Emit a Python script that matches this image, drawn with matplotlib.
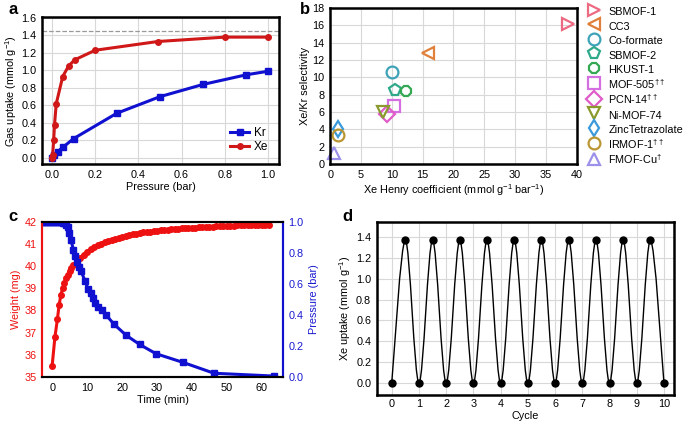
import numpy as np
import matplotlib
matplotlib.use("Agg")
import matplotlib.pyplot as plt
from matplotlib.path import Path
from matplotlib.patches import PathPatch

plt.rcParams['font.family'] = ['Liberation Sans', 'DejaVu Sans']
plt.rcParams['font.size'] = 7.8
plt.rcParams['mathtext.fontset'] = 'custom'
plt.rcParams['mathtext.rm'] = 'Liberation Sans'
plt.rcParams['mathtext.it'] = 'Liberation Sans'

# panel a: isotherms
kr_p = [0.0, 0.008, 0.026, 0.05, 0.1, 0.3, 0.5, 0.7, 0.9, 1.0]
kr_q = [0.0, 0.03, 0.07, 0.12, 0.22, 0.51, 0.70, 0.84, 0.95, 0.99]
xe_p = [0.0, 0.003, 0.008, 0.012, 0.02, 0.05, 0.077, 0.105, 0.2, 0.49, 0.80, 1.0]
xe_q = [0.0, 0.03, 0.2, 0.38, 0.62, 0.93, 1.05, 1.12, 1.23, 1.33, 1.38, 1.38]
sat_line = 1.45

# panel b: selectivity vs Henry coefficient
mofs = ['SBMOF-1', 'CC3', 'Co-formate', 'SBMOF-2', 'HKUST-1',
        r'MOF-505$^{\dagger\dagger}$', r'PCN-14$^{\dagger\dagger}$', 'Ni-MOF-74',
        'ZincTetrazolate', r'IRMOF-1$^{\dagger\dagger}$', r'FMOF-Cu$^{\dagger}$']
henry = [38.5, 15.8, 10.0, 10.5, 12.3, 10.4, 9.2, 8.5, 1.2, 1.3, 0.6]
selectivity = [16.2, 12.85, 10.65, 8.6, 8.45, 6.75, 5.8, 5.95, 4.1, 3.35, 1.3]
mof_markers = ['>', '<', 'o', 'p', '8', 's', 'D', 'v', 'd', 'o', '^']
mof_colors = ['#ec6a82', '#e0803a', '#3fa3b8', '#2fa98a', '#34a853', '#d36fe0',
              '#e05cc8', '#8a9a2c', '#3a9ad9', '#b99632', '#9b90ea']

# panel c: breakthrough
w_t = [0, 0.8, 1.5, 2, 2.5, 3, 3.5, 4, 4.5, 5, 5.5, 6, 7, 8, 9, 10, 11, 12, 13, 14,
       15, 16, 17, 18, 19, 20, 21, 22, 23, 24, 25, 26, 27, 28, 29, 30, 31, 32, 33,
       34, 35, 36, 37, 38, 39, 40, 41, 42, 43, 44, 45, 46, 47, 48, 49, 50, 51, 52,
       53, 54, 55, 56, 57, 58, 59, 60, 61, 62]
weight = [35.5, 36.8, 37.6, 38.25, 38.7, 39.0, 39.25, 39.45, 39.62, 39.78, 39.92,
          40.05, 40.22, 40.38, 40.52, 40.65, 40.76, 40.86, 40.94, 41.01, 41.07,
          41.13, 41.18, 41.23, 41.28, 41.32, 41.36, 41.40, 41.43, 41.46, 41.49,
          41.52, 41.54, 41.56, 41.58, 41.60, 41.62, 41.63, 41.65, 41.66, 41.68,
          41.69, 41.70, 41.71, 41.72, 41.73, 41.74, 41.75, 41.76, 41.77, 41.78,
          41.79, 41.80, 41.80, 41.81, 41.82, 41.82, 41.83, 41.84, 41.84, 41.85,
          41.85, 41.86, 41.86, 41.86, 41.87, 41.87, 41.87]
p_t = [-3, -2.5, -2, -1.5, -1, -0.5, 0, 0.5, 1, 1.5, 2, 2.5, 3, 3.5, 4, 4.6, 4.9,
       5.4, 6.1, 6.6, 7.1, 7.7, 8.3, 9.4, 10.2, 11.0, 11.6, 12.4, 13.2, 14.3, 15.4,
       17.7, 21.1, 25, 29.7, 37.3, 46.3, 63.4]
pressure = [1, 1, 1, 1, 1, 1, 1, 1, 1, 1, 1, 0.998, 0.995, 0.99, 0.98, 0.97, 0.93,
            0.88, 0.82, 0.78, 0.74, 0.71, 0.68, 0.62, 0.57, 0.54, 0.51, 0.48, 0.45,
            0.43, 0.40, 0.34, 0.27, 0.21, 0.15, 0.095, 0.024, 0.006]

# panel d: cycling
cycle = [0, 0.5, 1, 1.5, 2, 2.5, 3, 3.5, 4, 4.5, 5, 5.5, 6, 6.5, 7, 7.5, 8, 8.5,
         9, 9.5, 10]
xe_uptake = [0, 1.37, 0, 1.37, 0, 1.37, 0, 1.37, 0, 1.37, 0, 1.37, 0, 1.37, 0,
             1.37, 0, 1.37, 0, 1.37, 0]

GRID = '#d8d8d8'


def smooth_path(x, y):
    pts = np.column_stack([x, y]).astype(float)
    verts = [pts[0]]
    codes = [Path.MOVETO]
    n = len(pts)
    for i in range(n - 1):
        p0 = pts[i - 1] if i > 0 else pts[i]
        p1, p2 = pts[i], pts[i + 1]
        p3 = pts[i + 2] if i + 2 < n else pts[i + 1]
        verts += [p1 + (p2 - p0) / 6, p2 - (p3 - p1) / 6, p2]
        codes += [Path.CURVE4] * 3
    return Path(verts, codes)


def frame(ax, lw=1.8):
    for s in ax.spines.values():
        s.set_linewidth(lw)
    ax.tick_params(length=0, pad=4)


fig = plt.figure(figsize=(6.85, 4.25), dpi=100)

# ---- a ----
ax = fig.add_axes([0.0613, 0.614, 0.3457, 0.346])
ax.grid(True, color=GRID, lw=0.8)
ax.set_axisbelow(True)
ax.axhline(sat_line, color='#999999', ls='--', lw=0.9)
ax.plot(kr_p, kr_q, '-s', color='#1010d0', lw=2.2, ms=4, label='Kr')
ax.plot(xe_p, xe_q, '-o', color='#d01818', lw=2.2, ms=4, label='Xe')
ax.set_xlim(-0.046, 1.05)
ax.set_ylim(-0.07, 1.61)
ax.set_xticks(np.arange(0, 1.01, 0.2))
ax.set_yticks(np.arange(0, 1.61, 0.2))
ax.xaxis.set_major_formatter(matplotlib.ticker.FormatStrFormatter('%.1f'))
ax.yaxis.set_major_formatter(matplotlib.ticker.FormatStrFormatter('%.1f'))
ax.set_xlabel('Pressure (bar)', labelpad=2)
ax.set_ylabel('Gas uptake (mmol g$^{-1}$)', labelpad=2)
ax.legend(loc='lower right', frameon=False, handlelength=1.6, handletextpad=0.4,
          labelspacing=0.2, fontsize=8.5)
frame(ax)

# ---- b ----
ax = fig.add_axes([0.482, 0.614, 0.360, 0.367])
ax.grid(True, color=GRID, lw=0.8)
ax.set_axisbelow(True)
for i in range(len(mofs)):
    ax.plot(henry[i], selectivity[i], ls='none', marker=mof_markers[i], ms=8.5,
            mfc='none', mec=mof_colors[i], mew=1.6, label=mofs[i], clip_on=False)
ax.set_xlim(0, 40)
ax.set_ylim(0, 18)
ax.set_xticks(np.arange(0, 41, 5))
ax.set_yticks(np.arange(0, 19, 2))
ax.set_xlabel('Xe Henry coefficient (mmol g$^{-1}$ bar$^{-1}$)', labelpad=2)
ax.set_ylabel('Xe/Kr selectivity', labelpad=2)
ax.legend(loc='upper left', bbox_to_anchor=(1.01, 1.05), frameon=False,
          handletextpad=0.3, labelspacing=0.0, handleheight=1.68,
          borderaxespad=0.0, fontsize=7.8)
frame(ax)

# ---- c ----
ax = fig.add_axes([0.0613, 0.113, 0.3517, 0.365])
ax.plot(w_t, weight, '-o', color='#ee1111', lw=2.2, ms=4)
ax.set_xlim(-2.9, 66)
ax.set_ylim(35, 42)
ax.set_xticks(np.arange(0, 61, 10))
ax.set_yticks(np.arange(35, 43, 1))
ax.set_xlabel('Time (min)', labelpad=2)
ax.set_ylabel('Weight (mg)', color='#ee1111', labelpad=2)
ax.tick_params(axis='y', colors='#ee1111')
ax2 = ax.twinx()
ax2.plot(p_t, pressure, '-s', color='#1010d0', lw=2.2, ms=4)
ax2.set_ylim(0, 1)
ax2.set_yticks(np.arange(0, 1.01, 0.2))
ax2.yaxis.set_major_formatter(matplotlib.ticker.FormatStrFormatter('%.1f'))
ax2.set_ylabel('Pressure (bar)', color='#1a1ad0', labelpad=4)
ax2.tick_params(axis='y', colors='#1a1ad0')
for a_ in (ax, ax2):
    a_.tick_params(length=0, pad=4)
    for s in a_.spines.values():
        s.set_linewidth(1.5)
ax2.spines['left'].set_color('#ee1111')
ax2.spines['right'].set_color('#1010d0')
ax.spines['left'].set_color('#ee1111')
ax.spines['right'].set_color('#1010d0')

# ---- d ----
ax = fig.add_axes([0.550, 0.0706, 0.434, 0.407])
ax.grid(True, color=GRID, lw=0.8)
ax.set_axisbelow(True)
ax.add_patch(PathPatch(smooth_path(cycle, xe_uptake), fc='none', ec='black', lw=1.0))
ax.plot(cycle, xe_uptake, 'o', color='black', ms=5)
ax.set_xlim(-0.55, 10.37)
ax.set_ylim(-0.115, 1.545)
ax.set_xticks(np.arange(0, 11, 1))
ax.set_yticks(np.arange(0, 1.41, 0.2))
ax.yaxis.set_major_formatter(matplotlib.ticker.FormatStrFormatter('%.1f'))
ax.set_xlabel('Cycle', labelpad=1)
ax.set_ylabel('Xe uptake (mmol g$^{-1}$)', labelpad=2)
frame(ax)
ax.tick_params(axis='x', pad=3)

for lbl, x, y in [('a', 0.012, 0.978), ('b', 0.438, 0.978),
                  ('c', 0.012, 0.49), ('d', 0.500, 0.49)]:
    fig.text(x, y, lbl, fontsize=12, fontweight='bold', va='center', ha='left')

fig.savefig('out.png', dpi=100)
